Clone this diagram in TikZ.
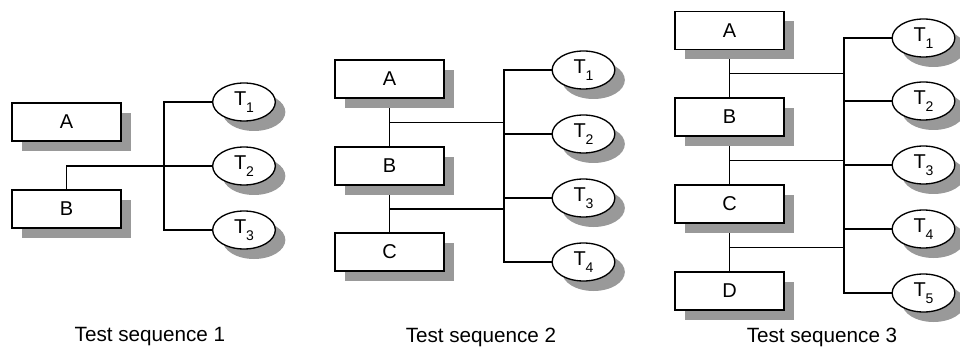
\documentclass[tikz,border=0pt]{standalone}
\usepackage{fontspec}
\setmainfont{Liberation Sans}
\usetikzlibrary{shapes.geometric,shadows,backgrounds}

% T with a low index
\newcommand{\tlabel}[1]{T\raisebox{-5pt}{\fontsize{10.5}{10.5}\selectfont #1}}

\tikzset{
  modbox/.style={draw,line width=1pt,fill=white,inner sep=0pt,
    minimum width=81.75pt,minimum height=28.5pt,font=\fontsize{15}{18}\selectfont,
    drop shadow={shadow xshift=7.5pt,shadow yshift=-7.5pt,fill=black!40,opacity=1}},
  tcase/.style={ellipse,draw,line width=1pt,fill=white,inner sep=0pt,
    minimum width=47pt,minimum height=28.5pt,font=\fontsize{15}{18}\selectfont,
    drop shadow={shadow xshift=7.5pt,shadow yshift=-7.5pt,fill=black!40,opacity=1}},
  wire/.style={line width=0.9pt},
  caption/.style={font=\fontsize{15.5}{18}\selectfont}
}

\begin{document}
\begin{tikzpicture}[x=0.75pt,y=-0.75pt]
\useasboundingbox (0,0) rectangle (960,349);

% Test sequence 1
\node[modbox] (A1) at (66.5,122) {A};
\node[modbox] (B1) at (66.5,209) {B};
\node[tcase] (T11) at (244,102) {\tlabel{1}};
\node[tcase] (T12) at (244,166) {\tlabel{2}};
\node[tcase] (T13) at (244,230) {\tlabel{3}};
\coordinate (bus1) at (164,0);
\node[caption] (cap1) at (150,337) {Test sequence 1};

% Test sequence 2
\node[modbox] (A2) at (389.5,79) {A};
\node[modbox] (B2) at (389.5,166) {B};
\node[modbox] (C2) at (389.5,252) {C};
\node[tcase] (T21) at (583.5,70) {\tlabel{1}};
\node[tcase] (T22) at (583.5,134) {\tlabel{2}};
\node[tcase] (T23) at (583.5,198) {\tlabel{3}};
\node[tcase] (T24) at (583.5,262) {\tlabel{4}};
\coordinate (bus2) at (504,0);
\coordinate (J21) at (389.5,122.5);
\coordinate (J22) at (389.5,209);
\node[caption] (cap2) at (481,337) {Test sequence 2};

% Test sequence 3
\node[modbox] (A3) at (729.5,30.5) {A};
\node[modbox] (B3) at (729.5,117) {B};
\node[modbox] (C3) at (729.5,204) {C};
\node[modbox] (D3) at (729.5,291) {D};
\node[tcase] (T31) at (923.5,38) {\tlabel{1}};
\node[tcase] (T32) at (923.5,101) {\tlabel{2}};
\node[tcase] (T33) at (923.5,165) {\tlabel{3}};
\node[tcase] (T34) at (923.5,229) {\tlabel{4}};
\node[tcase] (T35) at (923.5,293) {\tlabel{5}};
\coordinate (bus3) at (844,0);
\coordinate (J31) at (729.5,73.5);
\coordinate (J32) at (729.5,160.5);
\coordinate (J33) at (729.5,247.5);
\node[caption] (cap3) at (822,337) {Test sequence 3};

% Leitungen
\begin{scope}[on background layer]
\draw[wire] (T11.west) -- (T11.west -| bus1) |- (T13.west);
\draw[wire] (B1.north) |- (T12.west);

\draw[wire] (A2.south) -- (C2.north);
\draw[wire] (T21.west) -- (T21.west -| bus2) |- (T24.west);
\draw[wire] (T22.west) -- (T22.west -| bus2);
\draw[wire] (T23.west) -- (T23.west -| bus2);
\draw[wire] (J21) -- (J21 -| bus2);
\draw[wire] (J22) -- (J22 -| bus2);

\draw[wire] (A3.south) -- (D3.north);
\draw[wire] (T31.west) -- (T31.west -| bus3) |- (T35.west);
\draw[wire] (T32.west) -- (T32.west -| bus3);
\draw[wire] (T33.west) -- (T33.west -| bus3);
\draw[wire] (T34.west) -- (T34.west -| bus3);
\draw[wire] (J31) -- (J31 -| bus3);
\draw[wire] (J32) -- (J32 -| bus3);
\draw[wire] (J33) -- (J33 -| bus3);
\end{scope}

\end{tikzpicture}
\end{document}
